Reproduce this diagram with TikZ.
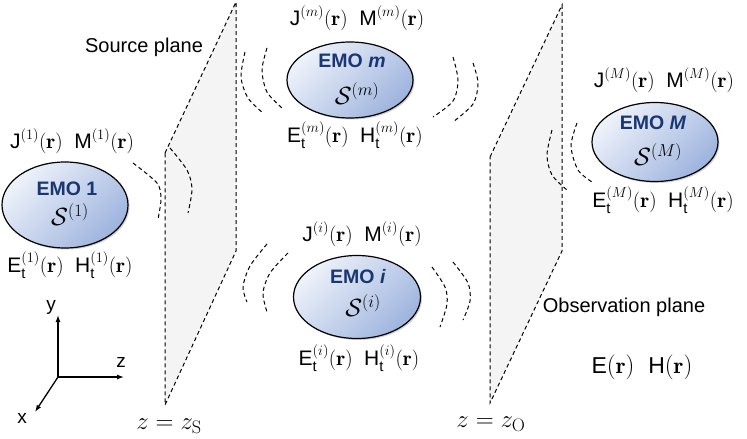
\documentclass[tikz,border=0pt]{standalone}
\usepackage{fontspec}
\usepackage{amsmath}
\newfontfamily\af{Liberation Sans}
\usetikzlibrary{shapes.geometric,arrows.meta,shadows}
\definecolor{emonavy}{RGB}{25,55,115}
\definecolor{elllight}{RGB}{238,242,250}
\definecolor{elldark}{RGB}{158,180,222}
\definecolor{planegray}{RGB}{244,244,244}
\newcommand\JMlab[1]{$\text{\af J}^{(#1)}(\mathbf{r})\;\;\text{\af M}^{(#1)}(\mathbf{r})$}
\newcommand\EHlab[1]{$\text{\af E}_{\text{\af t}}^{(#1)}(\mathbf{r})\;\;\text{\af H}_{\text{\af t}}^{(#1)}(\mathbf{r})$}
\begin{document}
\begin{tikzpicture}[x=1pt,y=-1pt,
  lbl/.style={font=\fontsize{21}{24}\selectfont, inner sep=0pt},
  emo/.style={ellipse, draw=black, line width=1.2pt, inner sep=0pt,
    top color=elllight, bottom color=elldark, shading angle=45,
    drop shadow={shadow xshift=1.5pt, shadow yshift=-1.5pt, opacity=0.3, fill=black!60}},
  emotxt/.style={font=\fontsize{19.5}{22}\selectfont\af\bfseries, text=emonavy, inner sep=0pt},
  stxt/.style={font=\fontsize{25}{27}\selectfont, inner sep=0pt},
  plane/.style={draw=black, fill=planegray, line width=1pt, dash pattern=on 4pt off 3pt},
  wave/.style={draw=black, line width=1pt, dash pattern=on 4pt off 3pt},
  planelbl/.style={font=\fontsize{20}{22}\selectfont\af, inner sep=0pt},
  zeq/.style={font=\fontsize{26}{28}\selectfont, inner sep=0pt},
  axis/.style={line width=1.3pt, -{Latex[length=7pt,width=5pt]}},
  axlbl/.style={font=\fontsize{19}{21}\selectfont\af, inner sep=0pt}]
\useasboundingbox (0,0) rectangle (747,439);

% planes
\path[plane] (165,153) -- (236,2) -- (236,251) -- (165,405) -- cycle;
\path[plane] (490,157) -- (562,5) -- (562,251) -- (490,403) -- cycle;

% waves EMO 1
\draw[wave] plot[smooth] coordinates {(133,163) (157,183) (161,199) (158,219)};
\draw[wave] plot[smooth] coordinates {(170,148) (187,170) (192,189) (188,213)};
% waves EMO m
\draw[wave] plot[smooth] coordinates {(245,52) (241,77) (248,98) (263,113)};
\draw[wave] plot[smooth] coordinates {(267,48) (262,70) (267,92) (282,108)};
\draw[wave] plot[smooth] coordinates {(453,57) (458,80) (453,101) (433,117)};
\draw[wave] plot[smooth] coordinates {(473,63) (478,83) (473,104) (453,122)};
% waves EMO i
\draw[wave] plot[smooth] coordinates {(267,244) (250,266) (243,287) (247,302)};
\draw[wave] plot[smooth] coordinates {(288,253) (270,273) (263,293) (267,312)};
\draw[wave] plot[smooth] coordinates {(432,267) (445,287) (447,304) (440,327)};
\draw[wave] plot[smooth] coordinates {(453,262) (468,283) (470,301) (463,320)};
% waves EMO M
\draw[wave] plot[smooth] coordinates {(552,130) (547,155) (552,175) (567,190)};
\draw[wave] plot[smooth] coordinates {(577,123) (571,146) (578,170) (592,182)};

% ellipses
\node[emo, minimum width=126pt, minimum height=86pt] (e1) at (65,205) {};
\node[emo, minimum width=126pt, minimum height=76pt] (em) at (350,80) {};
\node[emo, minimum width=127pt, minimum height=83pt] (ei) at (357,297) {};
\node[emo, minimum width=126pt, minimum height=79pt] (eM) at (655,142) {};

\node[emotxt] (t1) at (67,189) {EMO 1};
\node[stxt] (s1) at (70,215) {$\mathcal{S}^{(1)}$};
\node[emotxt] (tm) at (352,61) {EMO \textit{m}};
\node[stxt] (sm) at (357,94) {$\mathcal{S}^{(m)}$};
\node[emotxt] (ti) at (358,277) {EMO \textit{i}};
\node[stxt] (si) at (363,306) {$\mathcal{S}^{(i)}$};
\node[emotxt] (tM) at (653,123) {EMO \textit{M}};
\node[stxt] (sM) at (658,155) {$\mathcal{S}^{(M)}$};

% labels
\node[lbl] (j1) at (72,141) {\JMlab{1}};
\node[lbl] (h1) at (70,265) {\EHlab{1}};
\node[lbl] (jm) at (357,18) {\JMlab{m}};
\node[lbl] (hm) at (355,135) {\EHlab{m}};
\node[lbl] (ji) at (362,234) {\JMlab{i}};
\node[lbl] (hi) at (359,358) {\EHlab{i}};
\node[lbl] (jM) at (664,80) {\JMlab{M}};
\node[lbl] (hM) at (663,200) {\EHlab{M}};

\node[planelbl] (sp) at (144,47) {Source plane};
\node[planelbl] (op) at (624,307) {Observation plane};
\node[font=\fontsize{23}{25}\selectfont, inner sep=0pt] (eh) at (642,367) {$\text{\af E}(\mathbf{r})\;\;\text{\af H}(\mathbf{r})$};

\node[zeq] (zs) at (169,426) {$z=z_{\mathrm{S}}$};
\node[zeq] (zo) at (491,424) {$z=z_{\mathrm{O}}$};

% axes
\coordinate (O) at (58,377);
\coordinate (Y) at (58,315);
\coordinate (Z) at (124,377);
\coordinate (X) at (35,412);
\draw[axis] (O) -- (Y);
\draw[axis] (O) -- (Z);
\draw[axis] (O) -- (X);
\node[axlbl] (ly) at (51,307) {y};
\node[axlbl] (lz) at (121,362) {z};
\node[axlbl] (lx) at (22,418) {x};
\end{tikzpicture}
\end{document}
